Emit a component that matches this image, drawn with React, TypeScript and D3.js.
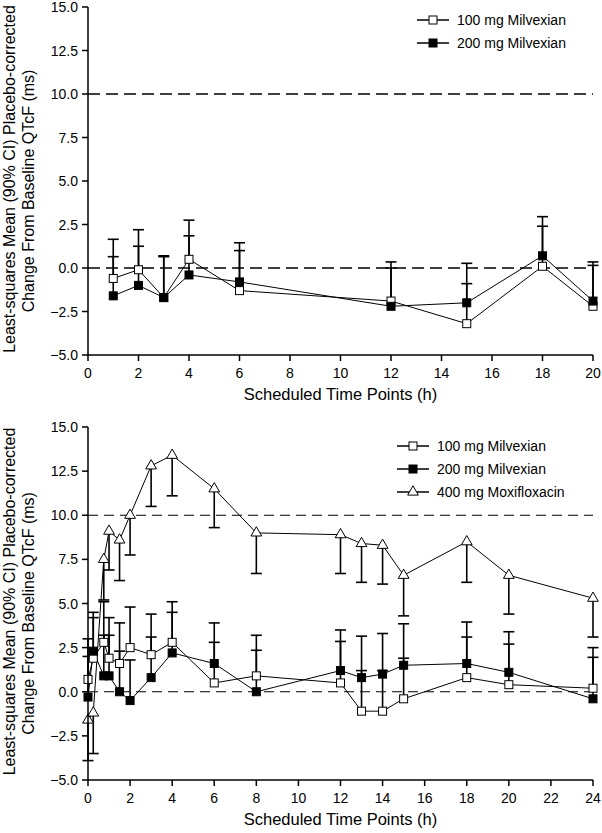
import React from "react";
import * as d3 from "d3";

// Panel A: milvexian single doses, 0-20 h
const topTimes = [1, 2, 3, 4, 6, 12, 15, 18, 20];
const top100Mean = [-0.6, -0.1, -1.7, 0.5, -1.3, -1.9, -3.2, 0.1, -2.2];
const top100Upper = [1.65, 2.2, 0.7, 2.75, 1.0, 0.35, -0.9, 2.4, 0.15];
const top200Mean = [-1.6, -1.0, -1.7, -0.4, -0.8, -2.2, -2.0, 0.7, -1.9];
const top200Upper = [0.65, 1.25, 0.65, 1.85, 1.45, 0.0, 0.27, 2.95, 0.35];

// Panel B: milvexian + moxifloxacin, 0-24 h
const botTimes = [0, 0.25, 0.75, 1, 1.5, 2, 3, 4, 6, 8, 12, 13, 14, 15, 18, 20, 24];
const bot100Mean = [0.7, 1.9, 2.8, 1.9, 1.6, 2.5, 2.1, 2.8, 0.5, 0.9, 0.5, -1.1, -1.1, -0.4, 0.8, 0.4, 0.2];
const bot100Upper = [3.0, 4.2, 5.1, 4.2, 3.9, 4.8, 4.4, 5.1, 2.8, 3.2, 2.85, 1.2, 1.2, 1.9, 3.1, 2.7, 2.5];
const bot200Mean = [-0.3, 2.3, 0.9, 0.9, 0.0, -0.5, 0.8, 2.2, 1.6, 0.0, 1.2, 0.8, 1.0, 1.5, 1.6, 1.1, -0.4];
const bot200Upper = [2.0, 4.5, 3.2, 3.2, 2.3, 1.8, 3.1, 4.5, 3.9, 2.35, 3.5, 3.15, 3.3, 3.85, 3.95, 3.4, 1.95];
const moxiMean = [-1.6, -1.2, 7.5, 9.1, 8.6, 10.0, 12.8, 13.4, 11.5, 9.0, 8.9, 8.4, 8.3, 6.6, 8.5, 6.6, 5.3];
const moxiLower = [-3.9, -3.5, 5.2, 6.9, 6.3, 7.75, 10.5, 11.1, 9.3, 6.7, 6.7, 6.2, 6.1, 4.3, 6.2, 4.4, 3.1];

const yTicks = [-5, -2.5, 0, 2.5, 5, 7.5, 10, 12.5, 15];
const refLines = [0, 10];
const labels = ["100 mg Milvexian", "200 mg Milvexian", "400 mg Moxifloxacin"];

const FONT = "'Liberation Sans', Arial, Helvetica, sans-serif";
const fmt = d3.format(".1f");

type Series = {
  name: string;
  marker: "open" | "filled" | "triangle";
  mean: number[];
  bound: number[];
};

const Marker = ({ kind, x, y }: { kind: string; x: number; y: number }) => {
  if (kind === "triangle") {
    const tri = d3.symbol().type(d3.symbolTriangle).size(50)();
    return (
      <path d={tri as string} transform={`translate(${x},${y})`} fill="white" stroke="black" strokeWidth={1} />
    );
  }
  const s = 8;
  return (
    <rect
      x={x - s / 2}
      y={y - s / 2}
      width={s}
      height={s}
      fill={kind === "filled" ? "black" : "white"}
      stroke="black"
      strokeWidth={1}
    />
  );
};

const Panel = (props: any) => {
  const { times, series, xMax, top, bottom, legendX, legendY, dash, dashWidth } = props;
  const left = 88;
  const right = 593;
  const x = d3.scaleLinear().domain([0, xMax]).range([left, right]);
  const y = d3.scaleLinear().domain([-5, 15]).range([bottom, top]);
  const xTicks = d3.range(0, xMax + 1, 2);
  const line = d3
    .line<number>()
    .x((_, i) => x(times[i]))
    .y((d) => y(d));
  const mid = (top + bottom) / 2;

  return (
    <g>
      {/* reference lines at 0 and 10 ms */}
      {refLines.map((v) => (
        <line
          key={v}
          x1={left}
          x2={right}
          y1={y(v)}
          y2={y(v)}
          stroke="black"
          strokeWidth={dashWidth}
          strokeDasharray={dash}
        />
      ))}

      {/* error bars, drawn one-sided */}
      {series.map((s: Series) =>
        s.mean.map((m, i) => (
          <g key={s.name + i} stroke="black" strokeWidth={1.6}>
            <line x1={x(times[i])} x2={x(times[i])} y1={y(m)} y2={y(s.bound[i])} />
            <line x1={x(times[i]) - 5.5} x2={x(times[i]) + 5.5} y1={y(s.bound[i])} y2={y(s.bound[i])} />
          </g>
        ))
      )}

      {series.map((s: Series) => (
        <path key={s.name} d={line(s.mean) as string} fill="none" stroke="black" strokeWidth={1} />
      ))}

      {series.map((s: Series) =>
        s.mean.map((m, i) => <Marker key={s.name + "m" + i} kind={s.marker} x={x(times[i])} y={y(m)} />)
      )}

      {/* axes */}
      <line x1={left} x2={left} y1={top} y2={bottom} stroke="black" strokeWidth={1.5} />
      <line x1={left} x2={right} y1={bottom} y2={bottom} stroke="black" strokeWidth={1.5} />
      {yTicks.map((t) => (
        <g key={"y" + t}>
          <line x1={left - 6} x2={left} y1={y(t)} y2={y(t)} stroke="black" strokeWidth={1.5} />
          <text x={left - 10} y={y(t) + 5} textAnchor="end" fontSize={14} fontFamily={FONT}>
            {fmt(t)}
          </text>
        </g>
      ))}
      {xTicks.map((t) => (
        <g key={"x" + t}>
          <line x1={x(t)} x2={x(t)} y1={bottom} y2={bottom + 6} stroke="black" strokeWidth={1.5} />
          <text x={x(t)} y={bottom + 23} textAnchor="middle" fontSize={14} fontFamily={FONT}>
            {t}
          </text>
        </g>
      ))}

      <text x={(left + right) / 2} y={bottom + 45} textAnchor="middle" fontSize={16.5} fontFamily={FONT}>
        Scheduled Time Points (h)
      </text>
      <text transform={`translate(15,${mid - 2}) rotate(-90)`} textAnchor="middle" fontSize={16} fontFamily={FONT}>
        Least-squares Mean (90% CI) Placebo-corrected
      </text>
      <text transform={`translate(34,${mid + 10}) rotate(-90)`} textAnchor="middle" fontSize={16} fontFamily={FONT}>
        Change From Baseline QTcF (ms)
      </text>

      {/* legend */}
      {series.map((s: Series, i: number) => (
        <g key={"lg" + s.name} transform={`translate(${legendX},${legendY + i * 23})`}>
          <line x1={0} x2={32} y1={0} y2={0} stroke="black" strokeWidth={1.5} />
          <Marker kind={s.marker} x={16} y={0} />
          <text x={40} y={5} fontSize={14} fontFamily={FONT}>
            {s.name}
          </text>
        </g>
      ))}
    </g>
  );
};

const App = () => {
  const topSeries: Series[] = [
    { name: labels[0], marker: "open", mean: top100Mean, bound: top100Upper },
    { name: labels[1], marker: "filled", mean: top200Mean, bound: top200Upper },
  ];
  const botSeries: Series[] = [
    { name: labels[0], marker: "open", mean: bot100Mean, bound: bot100Upper },
    { name: labels[1], marker: "filled", mean: bot200Mean, bound: bot200Upper },
    { name: labels[2], marker: "triangle", mean: moxiMean, bound: moxiLower },
  ];
  return (
    <svg
      width={602}
      height={833}
      style={{ position: "absolute", left: 0, top: 0, background: "white" }}
    >
      <rect width={602} height={833} fill="white" />
      <Panel
        times={topTimes}
        series={topSeries}
        xMax={20}
        top={7}
        bottom={355}
        legendX={417}
        legendY={20}
        dash="12 6"
        dashWidth={1.6}
      />
      <Panel
        times={botTimes}
        series={botSeries}
        xMax={24}
        top={427}
        bottom={780}
        legendX={397}
        legendY={446}
        dash="10 6"
        dashWidth={1}
      />
    </svg>
  );
};

export default App;
